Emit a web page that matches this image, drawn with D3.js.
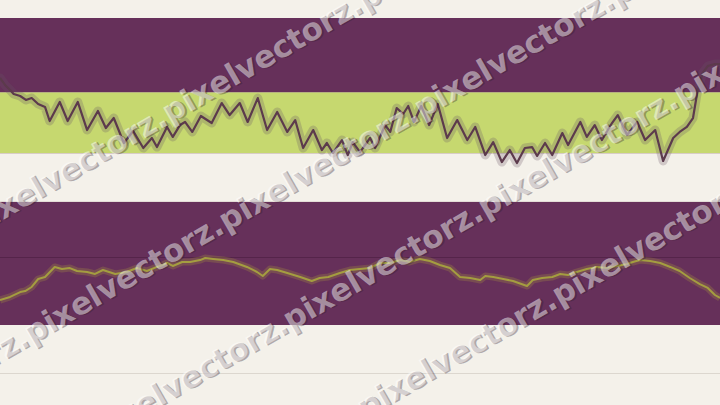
<!DOCTYPE html>
<html><head><meta charset="utf-8">
<script src="https://cdn.jsdelivr.net/npm/d3@7/dist/d3.min.js"></script>
<style>html,body{margin:0;padding:0;background:#f4f1ea;}svg{display:block;}</style>
</head><body>
<svg id="chart" width="720" height="405"></svg>
<script>
// ---- data ----
const topT = [0,0.7,1.4,1.9,2.8,3.6,4.4,5.3,6.25,6.9,8.3,9.4,10.8,12.1,13.6,14.7,15.8,17.2,18.5,19.9,21.1,21.8,23.2,24.0,25.0,25.7,26.7,27.9,29.4,30.8,31.9,33.3,34.4,35.8,37.1,38.5,39.9,41.0,42.1,43.5,44.7,45.4,46.25,47.5,48.3,49.0,50.0,51.4,52.1,53.5,54.2,55.1,56.0,56.7,57.5,58.5,59.6,60.8,62.1,63.5,64.9,66.0,67.4,68.5,69.7,70.8,71.8,72.9,73.9,74.6,75.7,76.7,78.1,78.9,80.6,81.5,82.6,83.6,85.0,85.8,87.1,88.5,89.6,91.0,92.1,93.5,94.4,95.4,96.25,96.9,97.6,98.3,99.3,100];
const topV = [55.6,50.4,46.7,43.7,42.2,39.3,40.7,36.3,34.1,23.7,37.8,23.7,37.8,17.0,31.1,18.5,25.9,7.4,16.3,3.7,11.1,4.4,19.3,11.9,20.7,23.0,15.6,27.4,22.2,37.0,28.1,37.0,23.0,40.7,17.0,30.4,15.6,24.4,3.7,17.0,2.2,7.4,0,9.6,-1.5,8.1,0.7,11.1,3.7,20.7,15.6,33.3,28.9,34.8,23.0,34.8,20.7,36.3,11.1,24.4,9.6,19.3,-1.5,8.1,-6.7,2.2,-7.4,3.7,4.4,-2.2,7.4,-1.5,14.8,5.9,23.0,11.9,20.7,9.6,22.2,28.1,13.3,23.0,9.6,17.0,-5.9,11.1,15.6,19.3,25.9,46.7,59.3,64.4,65.9,65.9];
const botT = [0,1.4,2.8,3.5,4.4,5.3,6.25,7.6,8.6,9.7,10.7,12.1,13.2,14.3,16.0,17.6,19.0,20.4,21.8,22.6,23.2,24.0,25.3,26.4,27.8,28.5,29.6,31.0,32.4,34.3,35.7,36.5,37.5,38.5,39.9,41.7,43.3,44.4,45.6,47.2,48.6,50.0,51.4,52.8,54.2,55.6,56.9,58.3,59.7,61.1,62.5,63.9,65.3,66.7,67.4,68.5,69.9,71.25,73.2,74.0,75.3,76.7,77.8,78.9,80.1,81.5,82.9,84.3,85.7,87.1,87.9,88.9,90.3,91.7,93.1,94.4,95.8,97.2,98.3,99.3,100];
const botV = [2.03,2.28,2.68,2.76,3.09,3.74,3.90,4.72,4.55,4.63,4.39,4.31,4.15,4.47,4.15,4.31,4.63,4.39,4.72,4.88,5.04,4.80,5.12,5.12,5.28,5.45,5.37,5.28,5.12,4.72,4.31,3.98,4.55,4.47,4.23,3.90,3.58,3.82,3.90,4.23,4.47,4.55,4.63,5.04,5.04,5.28,5.12,5.37,5.20,4.88,4.63,3.90,3.82,3.66,3.98,3.90,3.74,3.58,3.17,3.66,3.82,3.90,4.15,4.07,4.31,4.55,4.72,4.63,4.80,4.96,5.12,5.28,5.20,5.04,4.72,4.39,3.82,3.33,3.01,2.44,2.20];
const topBands = [{lo:0, hi:45, key:"low"}, {lo:45, hi:100, key:"high"}];
const botBands = [{lo:0, hi:10, key:"high"}];
const botRefs = [5.5];
const botBase = [-3.9];
const watermark = "pixelvectorz.";

// ---- setup ----
const W = 720, H = 405;
const colors = {bg:"#f4f1ea", high:"#66305a", low:"#c6d86f"};
const svg = d3.select("#chart");
svg.append("rect").attr("width", W).attr("height", H).attr("fill", colors.bg);

const x = d3.scaleLinear().domain([0,100]).range([0, W]);
const yTop = d3.scaleLinear().domain([0,100]).range([153, 18]);
const yBot = d3.scaleLinear().domain([0,10]).range([325, 202]);

// bands
svg.append("g").selectAll("rect").data(topBands).join("rect")
  .attr("x", 0).attr("width", W)
  .attr("y", d => yTop(d.hi)).attr("height", d => yTop(d.lo) - yTop(d.hi))
  .attr("fill", d => colors[d.key]);
svg.append("line").attr("x1",0).attr("x2",W).attr("y1",yTop(0)+0.5).attr("y2",yTop(0)+0.5)
  .attr("stroke","#d8cdc6").attr("stroke-width",1);
svg.append("g").selectAll("rect").data(botBands).join("rect")
  .attr("x", 0).attr("width", W)
  .attr("y", d => yBot(d.hi)).attr("height", d => yBot(d.lo) - yBot(d.hi))
  .attr("fill", d => colors[d.key]);
svg.append("line").attr("x1",0).attr("x2",W).attr("y1",yBot(10)-0.5).attr("y2",yBot(10)-0.5)
  .attr("stroke","#e3dcd6").attr("stroke-width",1);
svg.append("g").selectAll("line").data(botRefs).join("line")
  .attr("x1",0).attr("x2",W).attr("y1", d => Math.round(yBot(d))+0.5).attr("y2", d => Math.round(yBot(d))+0.5)
  .attr("stroke","#55244a").attr("stroke-width",1);
svg.append("g").selectAll("line").data(botBase).join("line")
  .attr("x1",0).attr("x2",W).attr("y1", d => Math.round(yBot(d))+0.5).attr("y2", d => Math.round(yBot(d))+0.5)
  .attr("stroke","#dcd7cf").attr("stroke-width",1);

// lines
const topData = topT.map((t,i) => ({t, v: topV[i]}));
const botData = botT.map((t,i) => ({t, v: botV[i]}));
const lineTop = d3.line().x(d => x(d.t)).y(d => yTop(d.v));
const lineBot = d3.line().x(d => x(d.t)).y(d => yBot(d.v)).curve(d3.curveLinear);

svg.append("path").datum(topData).attr("d", lineTop).attr("fill","none")
  .attr("stroke","rgba(105,85,100,0.26)").attr("stroke-width",9).attr("stroke-linejoin","round").attr("stroke-linecap","round");
svg.append("path").datum(topData).attr("d", lineTop).attr("fill","none")
  .attr("stroke","#5c3a4c").attr("stroke-width",2.2).attr("stroke-linejoin","round");

svg.append("path").datum(botData).attr("d", lineBot).attr("fill","none")
  .attr("stroke","rgba(170,150,60,0.28)").attr("stroke-width",7).attr("stroke-linejoin","round");
svg.append("path").datum(botData).attr("d", lineBot).attr("fill","none")
  .attr("stroke","#a49d40").attr("stroke-width",2).attr("stroke-linejoin","round");

// watermark rows (rotated overlay, continuous repeated text)
const rows = [{y:192, phase:85}, {y:314, phase:80}, {y:432, phase:86}, {y:545, phase:106}];
const wm = svg.append("g").attr("transform","rotate(-30)")
  .attr("font-family","'DejaVu Sans', sans-serif").attr("font-weight","bold").attr("font-size",31);
const probe = wm.append("text").text(watermark);
const period = probe.node().getComputedTextLength();
probe.remove();
const reps = Math.ceil(1400 / period);
const longStr = d3.range(reps).map(() => watermark).join("");
rows.forEach(r => {
  const x0 = r.phase - Math.ceil((r.phase + 300) / period) * period;
  wm.append("text").attr("x", x0 + 1.5).attr("y", r.y + 1.5)
    .attr("fill","rgba(50,30,45,0.35)").text(longStr);
  wm.append("text").attr("x", x0).attr("y", r.y)
    .attr("fill","rgba(255,255,255,0.48)").text(longStr);
});
</script>
</body></html>
